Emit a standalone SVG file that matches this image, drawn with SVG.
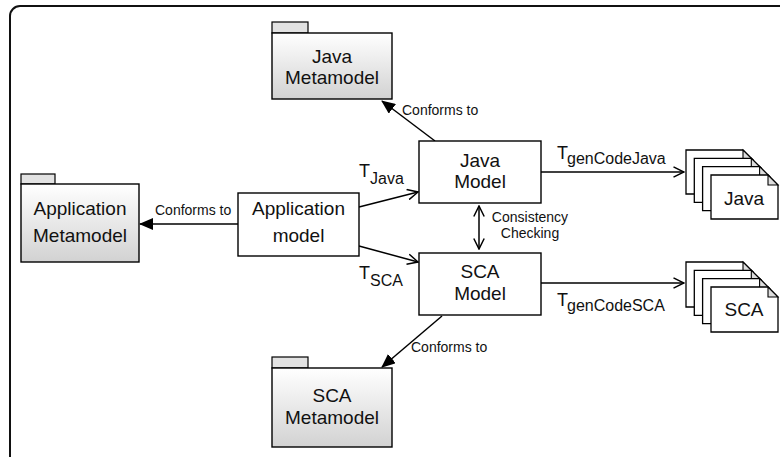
<svg xmlns="http://www.w3.org/2000/svg" width="780" height="457" viewBox="0 0 780 457">
<style>
  text { font-family: "Liberation Sans", Arial, sans-serif; fill: #111; }
  .big { font-size: 19px; text-anchor: middle; }
  .lbl { font-size: 14px; }
  .t { font-size: 18px; }
  .sub { font-size: 16px; }
  .box { fill: #fff; stroke: #000; stroke-width: 1.4; }
  .pkg { fill: url(#pg); stroke: #000; stroke-width: 1.4; }
  .tab { fill: #e2e2e2; stroke: #000; stroke-width: 1.2; }
  .page { fill: #fff; stroke: #000; stroke-width: 1.3; }
  .fold { fill: #ddd; stroke: #000; stroke-width: 1.1; }
  .edge { fill: none; stroke: #000; stroke-width: 1.5; }
</style>
<defs>
  <linearGradient id="pg" x1="0" y1="0" x2="0" y2="1">
    <stop offset="0" stop-color="#ffffff"/>
    <stop offset="1" stop-color="#d2d2d2"/>
  </linearGradient>
  <marker id="filled" viewBox="0 0 14 12" refX="13" refY="6" markerWidth="14" markerHeight="12" markerUnits="userSpaceOnUse" orient="auto">
    <path d="M0 0 L14 6 L0 12 Z" fill="#000"/>
  </marker>
  <marker id="open" viewBox="0 0 12 12" refX="11" refY="6" markerWidth="12" markerHeight="12" markerUnits="userSpaceOnUse" orient="auto">
    <path d="M0.5 0.8 L11 6 L0.5 11.2" fill="none" stroke="#000" stroke-width="1.5"/>
  </marker>
  <marker id="openStart" viewBox="0 0 12 12" refX="1" refY="6" markerWidth="12" markerHeight="12" markerUnits="userSpaceOnUse" orient="auto">
    <path d="M11.5 0.8 L1 6 L11.5 11.2" fill="none" stroke="#000" stroke-width="1.5"/>
  </marker>
</defs>

<path d="M10 457 V16 A10 10 0 0 1 20 6 H780" fill="none" stroke="#111" stroke-width="2"/>

<g id="connectors">
  <line class="edge" x1="238" y1="224" x2="140" y2="224" marker-end="url(#filled)"/>
  <line class="edge" x1="435" y1="141" x2="382" y2="101" marker-end="url(#filled)"/>
  <line class="edge" x1="442" y1="316" x2="382" y2="367" marker-end="url(#filled)"/>
  <line class="edge" x1="359" y1="207" x2="418" y2="192" marker-end="url(#open)"/>
  <line class="edge" x1="359" y1="246" x2="418" y2="262" marker-end="url(#open)"/>
  <line class="edge" x1="479" y1="206" x2="479" y2="249" marker-start="url(#openStart)" marker-end="url(#open)"/>
  <line class="edge" x1="541" y1="172" x2="684" y2="172" marker-end="url(#open)"/>
  <line class="edge" x1="541" y1="283" x2="684" y2="283" marker-end="url(#open)"/>
  <text class="lbl" x="155" y="215">Conforms to</text>
  <text class="lbl" x="402" y="115">Conforms to</text>
  <text class="lbl" x="411" y="352">Conforms to</text>
  <text class="lbl" x="530" y="222" text-anchor="middle">Consistency</text>
  <text class="lbl" x="530" y="238" text-anchor="middle">Checking</text>
  <text class="t" x="359" y="177">T<tspan class="sub" x="370" y="184">Java</tspan></text>
  <text class="t" x="359" y="279">T<tspan class="sub" x="370" y="286">SCA</tspan></text>
  <text class="t" x="557" y="159">T<tspan class="sub" x="567" y="164">genCodeJava</tspan></text>
  <text class="t" x="557" y="306">T<tspan class="sub" x="567" y="311">genCodeSCA</tspan></text>
</g>

<g id="java-metamodel">
  <rect class="tab" x="272" y="22" width="36" height="11"/>
  <rect class="pkg" x="272" y="33" width="120" height="66"/>
  <text class="big" x="332" y="63">Java</text>
  <text class="big" x="332" y="84">Metamodel</text>
</g>

<g id="application-metamodel">
  <rect class="tab" x="21" y="174" width="34" height="10"/>
  <rect class="pkg" x="21" y="184" width="118" height="78"/>
  <text class="big" x="80" y="215">Application</text>
  <text class="big" x="80" y="242">Metamodel</text>
</g>

<g id="sca-metamodel">
  <rect class="tab" x="272" y="357" width="36" height="11"/>
  <rect class="pkg" x="272" y="368" width="120" height="79"/>
  <text class="big" x="332" y="402">SCA</text>
  <text class="big" x="332" y="424">Metamodel</text>
</g>

<g id="application-model">
  <rect class="box" x="238" y="193" width="121" height="63"/>
  <text class="big" x="298.5" y="215">Application</text>
  <text class="big" x="298.5" y="242">model</text>
</g>

<g id="java-model">
  <rect class="box" x="419" y="141" width="122" height="62"/>
  <text class="big" x="480" y="167">Java</text>
  <text class="big" x="480" y="188">Model</text>
</g>

<g id="sca-model">
  <rect class="box" x="419" y="253" width="122" height="62"/>
  <text class="big" x="480" y="278">SCA</text>
  <text class="big" x="480" y="300">Model</text>
</g>

<g id="java-code">
  <path class="page" d="M686 150 h57 l10 10 v34 h-67 z"/>
  <path class="fold" d="M743 150 v10 h10 z"/>
  <path class="page" d="M694.3 158.3 h57 l10 10 v34 h-67 z"/>
  <path class="fold" d="M751.3 158.3 v10 h10 z"/>
  <path class="page" d="M702.6 166.6 h57 l10 10 v34 h-67 z"/>
  <path class="fold" d="M759.6 166.6 v10 h10 z"/>
  <path class="page" d="M711 175 h57 l10 10 v34 h-67 z"/>
  <path class="fold" d="M768 175 v10 h10 z"/>
  <text class="big" x="744" y="205">Java</text>
</g>

<g id="sca-code">
  <path class="page" d="M686 262 h57 l10 10 v35 h-67 z"/>
  <path class="fold" d="M743 262 v10 h10 z"/>
  <path class="page" d="M694.3 270.3 h57 l10 10 v35 h-67 z"/>
  <path class="fold" d="M751.3 270.3 v10 h10 z"/>
  <path class="page" d="M702.6 278.6 h57 l10 10 v35 h-67 z"/>
  <path class="fold" d="M759.6 278.6 v10 h10 z"/>
  <path class="page" d="M711 287 h57 l10 10 v35 h-67 z"/>
  <path class="fold" d="M768 287 v10 h10 z"/>
  <text class="big" x="744" y="316">SCA</text>
</g>
</svg>
